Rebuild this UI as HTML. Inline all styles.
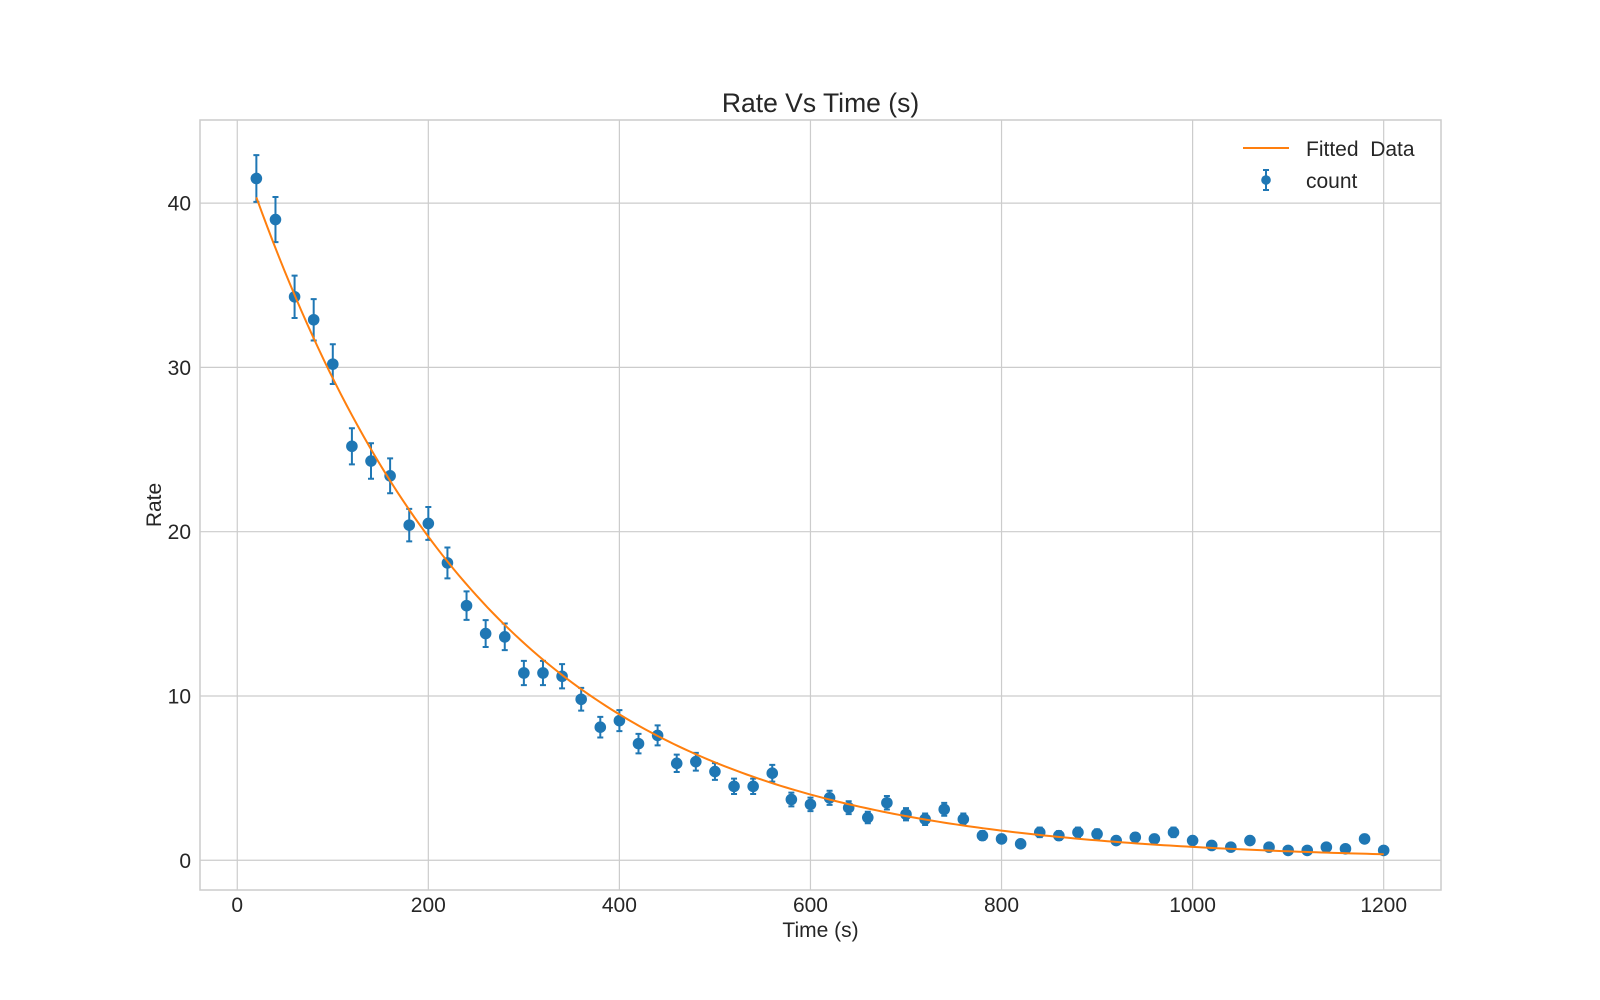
<!DOCTYPE html>
<html><head><meta charset="utf-8"><style>
html,body{margin:0;padding:0;background:#fff;}
svg{display:block;font-family:"Liberation Sans",Arial,sans-serif;}
</style></head><body>
<svg id="chart" width="1600" height="1000" viewBox="0 0 1600 1000"></svg>
<script>
const times=[20,40,60,80,100,120,140,160,180,200,220,240,260,280,300,320,340,360,380,400,420,440,460,480,500,520,540,560,580,600,620,640,660,680,700,720,740,760,780,800,820,840,860,880,900,920,940,960,980,1000,1020,1040,1060,1080,1100,1120,1140,1160,1180,1200];
const counts=[41.5,39.0,34.3,32.9,30.2,25.2,24.3,23.4,20.4,20.5,18.1,15.5,13.8,13.6,11.4,11.4,11.2,9.8,8.1,8.5,7.1,7.6,5.9,6.0,5.4,4.5,4.5,5.3,3.7,3.4,3.8,3.2,2.6,3.5,2.8,2.5,3.1,2.5,1.5,1.3,1.0,1.7,1.5,1.7,1.6,1.2,1.4,1.3,1.7,1.2,0.9,0.8,1.2,0.8,0.6,0.6,0.8,0.7,1.3,0.6];
const errors=[1.42,1.37,1.29,1.26,1.21,1.10,1.08,1.06,0.99,1.0,0.94,0.87,0.82,0.81,0.74,0.74,0.74,0.69,0.63,0.64,0.59,0.61,0.53,0.54,0.51,0.47,0.47,0.51,0.42,0.41,0.43,0.39,0.35,0.41,0.37,0.35,0.39,0.35,0.27,0.25,0.22,0.29,0.27,0.29,0.28,0.24,0.26,0.25,0.29,0.24,0.21,0.2,0.24,0.2,0.17,0.17,0.2,0.18,0.25,0.17];
const fitAmplitude=43.7;
const fitTau=251;
const xTicks=[0,200,400,600,800,1000,1200];
const yTicks=[0,10,20,30,40];

const L=200,R=1441,T=120,B=890;
const xMin=-39,xMax=1260,yMin=-1.81,yMax=45.06;
const X=v=>L+(v-xMin)/(xMax-xMin)*(R-L);
const Y=v=>B-(v-yMin)/(yMax-yMin)*(B-T);
const svg=document.getElementById('chart');
const NS='http://www.w3.org/2000/svg';
function mk(tag,attrs,parent){const e=document.createElementNS(NS,tag);for(const k in attrs)e.setAttribute(k,attrs[k]);(parent||svg).appendChild(e);return e;}

const grid=mk('g',{});


xTicks.forEach(t=>{
  const l=mk('line',{x1:X(t),x2:X(t),y1:T,y2:B,stroke:'#cccccc','stroke-width':1.2},grid);
  
  
  const tx=mk('text',{x:X(t),y:B+22,'text-anchor':'middle','font-size':21,fill:'#262626'});
  tx.textContent=t;
  
  
});
yTicks.forEach(t=>{
  const l=mk('line',{x1:L,x2:R,y1:Y(t),y2:Y(t),stroke:'#cccccc','stroke-width':1.2},grid);
  
  
  const tx=mk('text',{x:L-9,y:Y(t)+7.5,'text-anchor':'end','font-size':21,fill:'#262626'});
  tx.textContent=t;
  
  
});
const frame=mk('rect',{x:L,y:T,width:R-L,height:B-T,fill:'none',stroke:'#cccccc','stroke-width':1.5});



const eb=mk('g',{stroke:'#1f77b4','stroke-width':2,fill:'none'});


times.forEach((t,i)=>{
  const x=X(t),y1=Y(counts[i]-errors[i]),y2=Y(counts[i]+errors[i]);
  const g=mk('path',{d:`M${x},${y1}V${y2}M${x-3},${y1}H${x+3}M${x-3},${y2}H${x+3}`},eb);
  
  
});
let d='';
for(let k=0;k<=200;k++){const t=times[0]+(times[times.length-1]-times[0])*k/200;d+=(k?'L':'M')+X(t).toFixed(2)+','+Y(fitAmplitude*Math.exp(-t/fitTau)).toFixed(2);}
const fl=mk('path',{d:d,stroke:'#ff7f0e','stroke-width':2,fill:'none'});


times.forEach((t,i)=>{
  const c=mk('circle',{cx:X(t),cy:Y(counts[i]),r:4.8,fill:'#1f77b4'},eb);
  
  
});

const title=mk('text',{x:(L+R)/2,y:112,'text-anchor':'middle','font-size':26.5,fill:'#262626'});
title.textContent='Rate Vs Time (s)';


const xl=mk('text',{x:(L+R)/2,y:937,'text-anchor':'middle','font-size':21,fill:'#262626'});
xl.textContent='Time (s)';


const yl=mk('text',{x:0,y:0,'text-anchor':'middle','font-size':21,fill:'#262626',transform:`translate(161,${(T+B)/2}) rotate(-90)`});
yl.textContent='Rate';



const lg=mk('g',{});


const l1=mk('line',{x1:1243,x2:1289,y1:148,y2:148,stroke:'#ff7f0e','stroke-width':2},lg);


const t1=mk('text',{x:1306,y:156,'font-size':21,fill:'#262626'},lg);
t1.textContent='Fitted\u00a0 Data';


const s2=mk('path',{d:'M1266,170V190M1263,170H1269M1263,190H1269',stroke:'#1f77b4','stroke-width':2},lg);


const c2=mk('circle',{cx:1266,cy:180,r:4.8,fill:'#1f77b4'},lg);


const t2=mk('text',{x:1306,y:188,'font-size':21,fill:'#262626'},lg);
t2.textContent='count';


</script>
</body></html>
